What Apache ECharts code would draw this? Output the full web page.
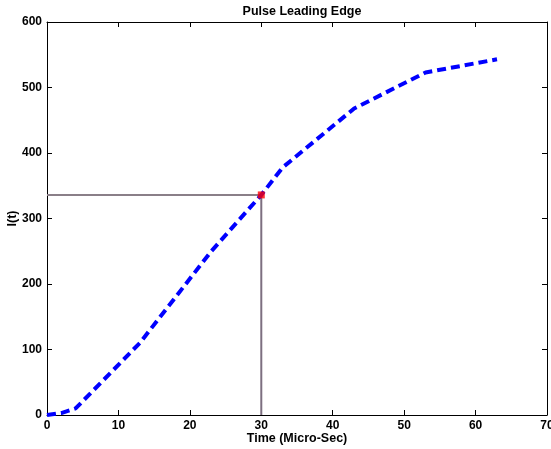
<!DOCTYPE html>
<html><head><meta charset="utf-8">
<script src="https://cdn.jsdelivr.net/npm/echarts@6/dist/echarts.min.js"></script>
<style>html,body{margin:0;padding:0;background:#fff}#c{width:551px;height:449px}</style>
</head><body><div id="c"></div>
<script>
var timeVals = [0, 2, 4, 13, 23, 30, 33, 43, 53, 63];
var currentVals = [0, 3, 10, 110, 250, 336, 378, 468, 523, 543];
var markX = 30, markY = 336;
var xTicks = [0, 10, 20, 30, 40, 50, 60, 70];
var yTicks = [0, 100, 200, 300, 400, 500, 600];
var titleText = 'Pulse Leading Edge';
var xName = 'Time (Micro-Sec)';
var yName = 'I(t)';

var font = 'Liberation Sans, Arial, Helvetica, sans-serif';
var chart = echarts.init(document.getElementById('c'));
var lineData = timeVals.map(function(t, i){ return [t, currentVals[i]]; });
function ax(pos, show, opts){
  return Object.assign({
    type: 'value', position: pos,
    axisLine: {show: true, onZero: false, lineStyle: {color: '#000', width: 1}},
    axisTick: {show: true, inside: true, length: 5, lineStyle: {color: '#000'}},
    axisLabel: {show: show, color: '#000', fontFamily: font, fontWeight: 'bold', fontSize: 12},
    splitLine: {show: false}
  }, opts);
}
var nameStyle = {fontFamily: font, fontWeight: 'bold', fontSize: 12.5, color: '#000'};
chart.setOption({
  animation: false,
  title: {text: titleText, left: 297, top: 0, textAlign: 'center',
    textStyle: {fontFamily: font, fontWeight: 'bold', fontSize: 12.5, color: '#000'}},
  grid: {left: 47, right: 4, top: 22, bottom: 34, containLabel: false, outerBoundsMode: 'none'},
  xAxis: [
    ax('bottom', true, {min: 0, max: 70, interval: 10, name: xName, nameLocation: 'middle', nameGap: 17,
      nameMoveOverlap: false, nameTextStyle: nameStyle,
      axisLabel: {show: true, color: '#000', fontFamily: font, fontWeight: 'bold', fontSize: 12, margin: 5}}),
    ax('top', false, {min: 0, max: 70, interval: 10})
  ],
  yAxis: [
    ax('left', true, {min: 0, max: 600, interval: 100, name: yName, nameLocation: 'middle', nameGap: 28,
      nameMoveOverlap: false, nameTextStyle: nameStyle,
      axisLabel: {show: true, color: '#000', fontFamily: font, fontWeight: 'bold', fontSize: 12, margin: 5}}),
    ax('right', false, {min: 0, max: 600, interval: 100})
  ],
  series: [
    {type: 'line', data: [[0, markY], [markX, markY]], symbol: 'none', silent: true,
      lineStyle: {color: '#8a7f88', width: 2}, z: 2},
    {type: 'line', data: [[markX, 0], [markX, markY]], symbol: 'none', silent: true,
      lineStyle: {color: '#7d6f80', width: 2}, z: 2},
    {type: 'line', data: lineData, symbol: 'none', silent: true,
      lineStyle: {color: '#0000ff', width: 4, type: [9, 5]}, z: 3},
    {type: 'scatter', data: [[markX, markY]], symbol: 'rect', symbolSize: 7,
      itemStyle: {color: '#ff0000'}, z: 4}
  ]
});
</script></body></html>
